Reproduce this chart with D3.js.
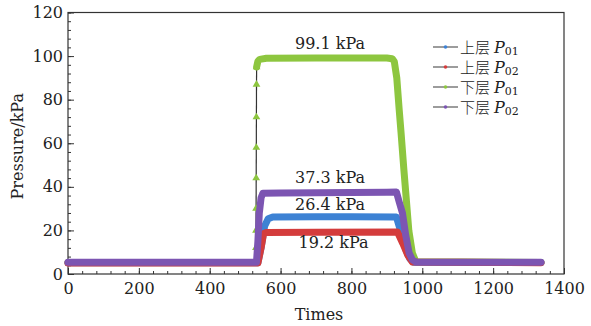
<!DOCTYPE html>
<html>
<head>
<meta charset="utf-8">
<script src="https://cdn.jsdelivr.net/npm/d3@7"></script>
<style>
  body { margin: 0; background: #fff; }
  text { font-family: "DejaVu Serif", serif; fill: #222; }
</style>
</head>
<body>
<div id="chart"></div>
<script>
// series: [time, kPa]
const upperP01 = [[0, 5.2], [536, 5.2], [545, 12], [555, 22], [565, 25.4], [578, 26.2], [700, 26.3], [800, 26.3], [927, 26.2], [940, 19], [954, 11], [965, 7], [975, 5.4], [1335, 5.3]]
const upperP02 = [[0, 5.0], [536, 5.0], [545, 12], [552, 18.5], [560, 19.1], [700, 19.2], [930, 19.3], [945, 14], [959, 8.7], [972, 5.5], [1335, 5.2]]
const lowerP01 = [[0, 5.3], [530, 5.3], [530.3, 12], [530.6, 20], [530.9, 30], [531.2, 44], [531.5, 58], [531.8, 72], [532.1, 87], [532.4, 95], [536, 97.6], [541, 98.5], [560, 99], [700, 99.1], [900, 99.1], [915, 98.8], [921, 97.5], [928, 90], [935, 75], [940, 65], [948, 48], [955, 34], [962, 20], [972, 9.6], [982, 5.6], [1335, 5.3]]
const lowerP02 = [[0, 5.4], [532, 5.4], [536, 15], [540, 28], [545, 35], [550, 37], [600, 37.2], [700, 37.3], [800, 37.4], [900, 37.5], [927, 37.6], [935, 33], [944, 28], [953, 18], [963, 9.6], [972, 6.5], [982, 5.5], [1335, 5.4]]

const seriesNames = ["上层", "上层", "下层", "下层"]
const seriesSubs = ["01", "02", "01", "02"]
const seriesColors = ["#3d82d4", "#d43c3c", "#8dc63f", "#7c55b2"]

const annotations = [["99.1 kPa", 700, 99.1], ["37.3 kPa", 700, 37.3], ["26.4 kPa", 700, 26.4], ["19.2 kPa", 710, 19.2]]
const annotOffsets = [-9, -10, -6, 16]

const xTicks = [0, 200, 400, 600, 800, 1000, 1200, 1400]
const yTicks = [0, 20, 40, 60, 80, 100, 120]

const W = 591, H = 326
const margin = { left: 68, right: 27, top: 12.5, bottom: 52 }

const svg = d3.select("#chart").append("svg")
    .attr("width", W)
    .attr("height", H)

const x = d3.scaleLinear().domain([0, 1400]).range([margin.left, W - margin.right])
const y = d3.scaleLinear().domain([0, 120]).range([H - margin.bottom, margin.top])

// minor ticks
svg.append("g")
    .attr("transform", "translate(0," + y(0) + ")")
    .call(d3.axisBottom(x).tickValues(d3.range(0, 1401, 40)).tickSize(-3).tickFormat(""))
svg.append("g")
    .attr("transform", "translate(" + x(0) + ",0)")
    .call(d3.axisLeft(y).tickValues(d3.range(0, 121, 4)).tickSize(-3).tickFormat(""))

// major ticks
let xAxis = svg.append("g")
    .attr("transform", "translate(0," + y(0) + ")")
    .call(d3.axisBottom(x).tickValues(xTicks).tickFormat(d3.format("d")).tickSize(-6).tickPadding(9))
let yAxis = svg.append("g")
    .attr("transform", "translate(" + x(0) + ",0)")
    .call(d3.axisLeft(y).tickValues(yTicks).tickFormat(d3.format("d")).tickSize(-6).tickPadding(5))

svg.selectAll(".domain").remove()
svg.selectAll(".tick line").attr("stroke", "#333")
svg.selectAll(".tick text")
    .style("font-family", "DejaVu Serif")
    .style("font-size", "16px")
    .attr("fill", "#222")

// frame
svg.append("rect")
    .attr("x", x(0)).attr("y", y(120))
    .attr("width", x(1400) - x(0)).attr("height", y(0) - y(120))
    .attr("fill", "none").attr("stroke", "#333").attr("stroke-width", 1.2)

// draw series: gentle parts as thick marker bands, steep jumps as thin line + markers
const plot = svg.append("g")
const line = d3.line().x(d => x(d[0])).y(d => y(d[1]))
const tri = d3.symbol().type(d3.symbolTriangle).size(26)

function drawSeries(data, color) {
    let runs = [], cur = [data[0]], steep = []
    for (let i = 1; i < data.length; i++) {
        let a = data[i - 1], b = data[i]
        let slope = Math.abs((b[1] - a[1]) / (b[0] - a[0]))
        if (slope > 8) {
            steep.push([a, b])
            if (cur.length > 1) runs.push(cur)
            cur = [b]
        } else {
            cur.push(b)
        }
    }
    if (cur.length > 1) runs.push(cur)

    steep.forEach(s => {
        plot.append("path")
            .attr("d", line(s))
            .attr("fill", "none")
            .attr("stroke", "#333")
            .attr("stroke-width", 1.2)
    })
    steep.forEach(s => {
        plot.append("path")
            .attr("d", tri)
            .attr("transform", "translate(" + x(s[1][0]) + "," + y(s[1][1]) + ")")
            .attr("fill", color)
    })
    runs.forEach(r => {
        plot.append("path")
            .attr("d", line(r))
            .attr("fill", "none")
            .attr("stroke", color)
            .attr("stroke-width", 7)
            .attr("stroke-linejoin", "round")
            .attr("stroke-linecap", "round")
    })
}

drawSeries(lowerP01, seriesColors[2])
drawSeries(upperP01, seriesColors[0])
drawSeries(upperP02, seriesColors[1])
drawSeries(lowerP02, seriesColors[3])

// value labels
annotations.forEach((a, i) => {
    svg.append("text")
        .attr("x", x(a[1]) + 14)
        .attr("y", y(a[2]) + annotOffsets[i])
        .attr("text-anchor", "middle")
        .style("font-size", "16px")
        .text(a[0])
})

// legend
const legend = svg.append("g")
seriesNames.forEach((name, i) => {
    let ly = 47 + i * 20
    legend.append("line")
        .attr("x1", 433).attr("x2", 458)
        .attr("y1", ly).attr("y2", ly)
        .attr("stroke", "#666").attr("stroke-width", 1.3)
    legend.append("circle")
        .attr("cx", 445.5).attr("cy", ly).attr("r", 1.8)
        .attr("fill", seriesColors[i])
    let t = legend.append("text")
        .attr("x", 460).attr("y", ly + 5.5)
        .style("font-size", "15px")
    t.append("tspan")
        .style("font-family", "Noto Sans CJK SC")
        .style("font-weight", 300)
        .text(name)
    t.append("tspan")
        .attr("dx", 4)
        .style("font-style", "italic")
        .style("font-size", "16px")
        .text("P")
    t.append("tspan")
        .attr("dy", 2.5)
        .style("font-size", "11px")
        .text(seriesSubs[i])
})

// axis titles
svg.append("text")
    .attr("x", (x(0) + x(1400)) / 2 + 3)
    .attr("y", 320)
    .attr("text-anchor", "middle")
    .style("font-size", "16px")
    .text("Times")

svg.append("text")
    .attr("transform", "translate(23," + (y(60) + 3) + ") rotate(-90)")
    .attr("text-anchor", "middle")
    .style("font-size", "16px")
    .text("Pressure/kPa")
</script>
</body>
</html>
